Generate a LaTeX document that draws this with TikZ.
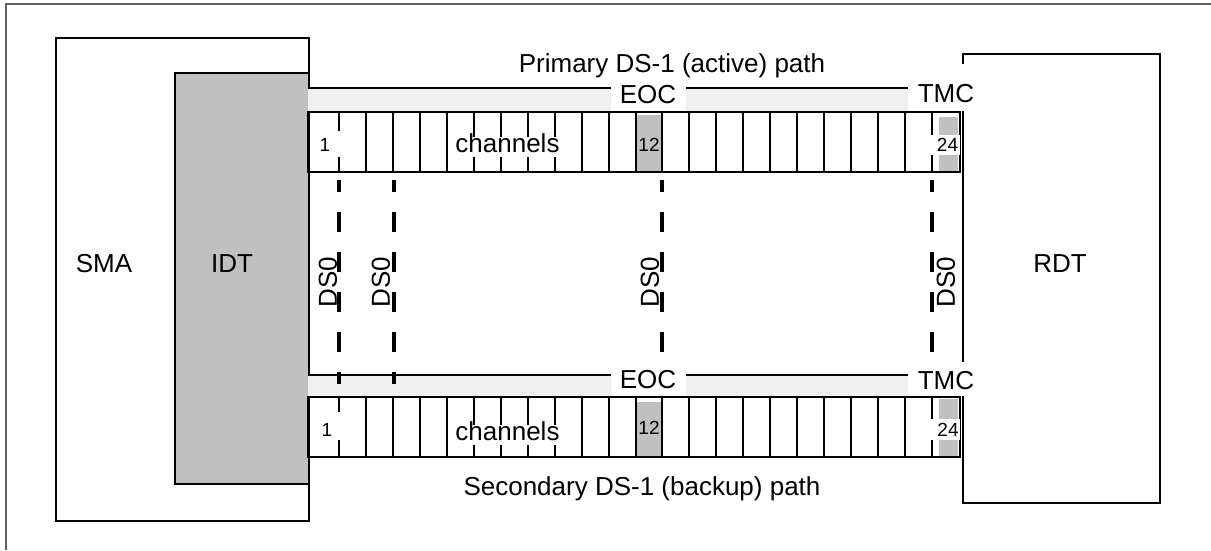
\documentclass[tikz,border=0pt]{standalone}
\usepackage{fontspec}
\setmainfont{Liberation Sans}
\definecolor{bandgray}{HTML}{F0F0F0}
\definecolor{cellgray}{HTML}{C0C0C0}
\definecolor{framegray}{HTML}{606060}
\begin{document}
\begin{tikzpicture}[x=1pt,y=-1pt,
  box/.style={draw=black, line width=2.2pt, anchor=north west, inner sep=0pt},
  bigtxt/.style={font=\fontsize{26}{30}\selectfont, inner sep=0pt},
  smalltxt/.style={font=\fontsize{19}{22}\selectfont, inner sep=0pt},
  bandline/.style={line width=2pt},
  divider/.style={line width=2pt},
  dsline/.style={line width=3.5pt, dash pattern=on 20pt off 20pt, dash phase=8pt},
  mask/.style={fill=white}
]
\useasboundingbox (0,0) rectangle (1211,550);
% outer frame (partially visible)
\draw[framegray, line width=1.5pt] (6,550) -- (6,4) -- (1211,4);

% main boxes
\node[box, fill=white, minimum width=253pt, minimum height=483pt] (sma) at (55,37) {};
\node[box, fill=cellgray, minimum width=134pt, minimum height=411pt] (idt) at (174,72) {};
\node[box, fill=white, minimum width=197pt, minimum height=449pt] (rdt) at (962,53) {};

% ---------- upper (primary) path ----------
\fill[bandgray] (308,88) rectangle (960,112);
\draw[bandline] (308,88) -- (908,88);
\fill[cellgray] (637,115) rectangle (661,172);
\fill[cellgray] (939,117) rectangle (958,172);
\foreach \i in {0,...,22} \draw[divider] ({339+\i*26.955},112) -- ({339+\i*26.955},172);
\draw[line width=2pt] (308,112) rectangle (960,172);

% ---------- lower (secondary) path ----------
\fill[bandgray] (308,375) rectangle (960,397);
\draw[bandline] (308,375) -- (908,375);
\fill[cellgray] (637,402) rectangle (661,457);
\fill[cellgray] (939,399) rectangle (958,457);
\foreach \i in {0,...,22} \draw[divider] ({339+\i*26.955},397) -- ({339+\i*26.955},457);
\draw[line width=2pt] (308,397) rectangle (960,457);

% ---------- DS0 connectors ----------
\coordinate (a1) at (339,180); \coordinate (a2) at (339,384);
\coordinate (b1) at (394,180); \coordinate (b2) at (394,384);
\coordinate (c1) at (662,180); \coordinate (c2) at (662,384);
\coordinate (d1) at (932,180); \coordinate (d2) at (932,384);
\draw[dsline] (a1) -- (a2);
\draw[dsline] (b1) -- (b2);
\draw[dsline] (c1) -- (c2);
\draw[dsline] (d1) -- (d2);

% ---------- white masks behind labels ----------
\fill[mask] (611,83) rectangle (686,111);
\fill[mask] (908,64) rectangle (976,110.5);
\fill[mask] (611,362) rectangle (686,396);
\fill[mask] (908,362) rectangle (976,396);
\fill[mask] (312,131) rectangle (343,157);
\fill[mask] (450,137) rectangle (580,157);
\fill[mask] (930,135) rectangle (960,155);
\fill[mask] (312,412) rectangle (343,440);
\fill[mask] (450,425) rectangle (580,445);
\fill[mask] (930,419) rectangle (960,440);

% ---------- texts ----------
\node[bigtxt] (primary) at (672,66) {Primary DS-1 (active) path};
\node[bigtxt] (secondary) at (642,489) {Secondary DS-1 (backup) path};
\node[bigtxt] (eoc1) at (648,95) {EOC};
\node[bigtxt] (tmc1) at (946,93.5) {TMC};
\node[bigtxt] (eoc2) at (648,380) {EOC};
\node[bigtxt] (tmc2) at (946,380.5) {TMC};
\node[bigtxt] (chan1) at (507.5,143) {channels};
\node[bigtxt] (chan2) at (507.5,431) {channels};
\node[smalltxt] (one1) at (325,145) {1};
\node[smalltxt] (one2) at (327,430) {1};
\node[smalltxt] (twelve1) at (649,145) {12};
\node[smalltxt] (twelve2) at (649,428) {12};
\node[smalltxt] (tf1) at (947.5,145) {24};
\node[smalltxt] (tf2) at (948,430) {24};
\node[bigtxt] (smalab) at (104,264) {SMA};
\node[bigtxt] (idtlab) at (232,264) {IDT};
\node[bigtxt] (rdtlab) at (1060,264) {RDT};
\node[bigtxt, rotate=90] (ds1) at (328,282) {DS0};
\node[bigtxt, rotate=90] (ds2) at (381,282) {DS0};
\node[bigtxt, rotate=90] (ds3) at (650,282) {DS0};
\node[bigtxt, rotate=90] (ds4) at (946,282) {DS0};
\end{tikzpicture}
\end{document}
